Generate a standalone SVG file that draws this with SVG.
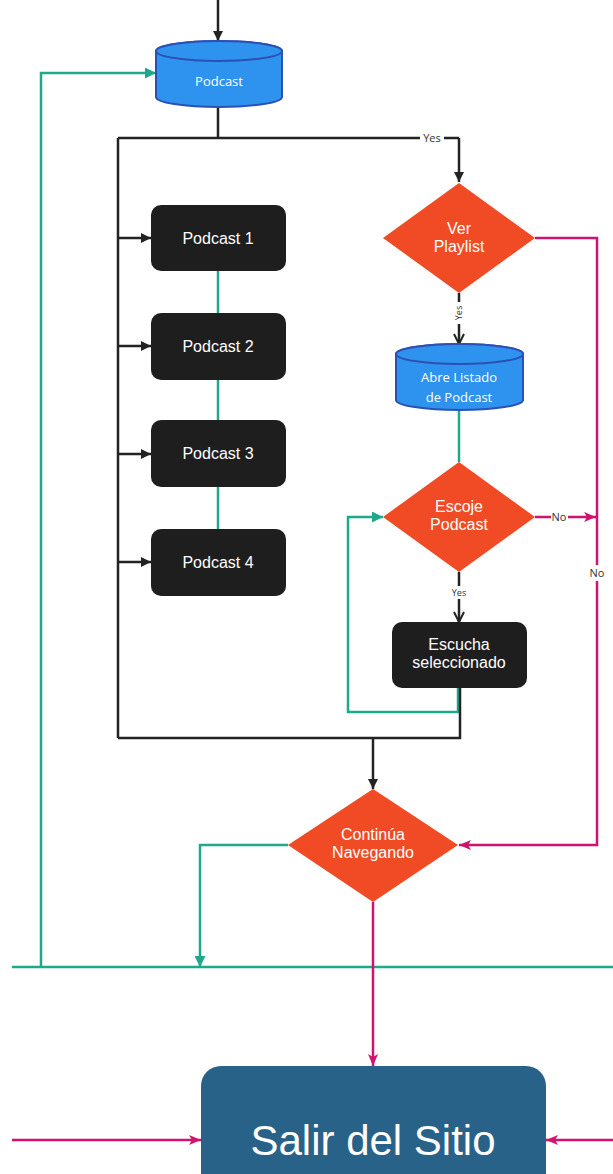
<svg xmlns="http://www.w3.org/2000/svg" width="613" height="1174" viewBox="0 0 613 1174">
  <style>
    .blk { fill: none; stroke: #232323; stroke-width: 2.5; }
    .grn { fill: none; stroke: #1fa889; stroke-width: 2.5; }
    .pnk { fill: none; stroke: #d1126f; stroke-width: 2.5; }
    .cyl { fill: #2e93ef; stroke: #2c50b4; stroke-width: 2; }
    .dia { fill: #f04b24; }
    .box { fill: #1e1e1e; }
    .exit { fill: #296289; }
    .t15 { font-family: "Liberation Sans", Arial, sans-serif; font-size: 16px; fill: #ffffff; text-anchor: middle; }
    .t13 { font-family: "Open Sans", "Noto Sans", sans-serif; font-size: 13px; fill: #ffffff; text-anchor: middle; }
    .lbl { font-family: "Open Sans", "Noto Sans", sans-serif; font-size: 11px; fill: #333333; text-anchor: middle; }
    .lbls { font-family: "Open Sans", "Noto Sans", sans-serif; font-size: 9px; fill: #333333; text-anchor: middle; }
  </style>
  <defs>
    <marker id="ahBlk" viewBox="0 0 10 10" refX="10" refY="5" markerWidth="10" markerHeight="10" markerUnits="userSpaceOnUse" orient="auto">
      <path d="M0,0 L10,5 L0,10 Z" fill="#232323"/>
    </marker>
    <marker id="ahBlkOpen" viewBox="0 0 12 12" refX="11" refY="6" markerWidth="12" markerHeight="12" markerUnits="userSpaceOnUse" orient="auto">
      <path d="M1,1 L11,6 L1,11" fill="none" stroke="#232323" stroke-width="2"/>
    </marker>
    <marker id="ahGrn" viewBox="0 0 10 10" refX="10" refY="5" markerWidth="11" markerHeight="11" markerUnits="userSpaceOnUse" orient="auto">
      <path d="M0,0 L10,5 L0,10 Z" fill="#1fa889"/>
    </marker>
    <marker id="ahPnk" viewBox="0 0 12 10" refX="12" refY="5" markerWidth="12" markerHeight="10" markerUnits="userSpaceOnUse" orient="auto">
      <path d="M0,0 L12,5 L0,10 L3,5 Z" fill="#d1126f"/>
    </marker>
  </defs>

  <!-- connectors -->
  <g id="connectors">
    <!-- entry into Podcast -->
    <path class="blk" d="M218,0 V41" marker-end="url(#ahBlk)"/>
    <!-- Podcast fan-out -->
    <path class="blk" d="M218,107 V138 M118,138 H459 M118,138 V738"/>
    <path class="blk" d="M459,138 V182" marker-end="url(#ahBlk)"/>
    <path class="blk" d="M118,238 H151" marker-end="url(#ahBlk)"/>
    <path class="blk" d="M118,346 H151" marker-end="url(#ahBlk)"/>
    <path class="blk" d="M118,454 H151" marker-end="url(#ahBlk)"/>
    <path class="blk" d="M118,562 H151" marker-end="url(#ahBlk)"/>
    <!-- podcast chain -->
    <path class="grn" d="M218,271 V313 M218,380 V420 M218,487 V529"/>
    <!-- Ver Playlist yes -->
    <path class="blk" d="M459,293 V344" marker-end="url(#ahBlkOpen)"/>
    <!-- Abre Listado to Escoje -->
    <path class="grn" d="M459,410 V462"/>
    <!-- Escoje yes -->
    <path class="blk" d="M459,572 V622" marker-end="url(#ahBlkOpen)"/>
    <!-- loop back to Escoje -->
    <path class="grn" d="M458,688 V712 H348 V517 H383" marker-end="url(#ahGrn)"/>
    <!-- merge into Continúa -->
    <path class="blk" d="M460,688 V738 H118"/>
    <path class="blk" d="M373,738 V789" marker-end="url(#ahBlk)"/>
    <!-- No branches -->
    <path class="pnk" d="M535,238 H597 V845 H459" marker-end="url(#ahPnk)"/>
    <path class="pnk" d="M535,517 H596" marker-end="url(#ahPnk)"/>
    <!-- Continúa to bus line -->
    <path class="grn" d="M288,845 H200 V967" marker-end="url(#ahGrn)"/>
    <path class="grn" d="M12,967 H613"/>
    <path class="grn" d="M41,967 V73 H156" marker-end="url(#ahGrn)"/>
    <!-- exits -->
    <path class="pnk" d="M373,902 V1066" marker-end="url(#ahPnk)"/>
    <path class="pnk" d="M12,1140 H201" marker-end="url(#ahPnk)"/>
    <path class="pnk" d="M613,1140 H546" marker-end="url(#ahPnk)"/>

    <!-- labels -->
    <rect x="420" y="131" width="24" height="14" fill="#ffffff"/>
    <text class="lbl" x="432" y="142">Yes</text>
    <rect x="452" y="302" width="14" height="22" fill="#ffffff"/>
    <text class="lbls" transform="translate(462,313) rotate(-90)">Yes</text>
    <rect x="450" y="586" width="18" height="13" fill="#ffffff"/>
    <text class="lbls" x="459" y="596">Yes</text>
    <rect x="551" y="510" width="17" height="14" fill="#ffffff"/>
    <text class="lbl" x="559" y="521">No</text>
    <rect x="589" y="565" width="16" height="16" fill="#ffffff"/>
    <text class="lbl" x="597" y="577">No</text>
  </g>

  <!-- nodes -->
  <g id="podcast">
    <path class="cyl" d="M156,51 A63,10 0 0 1 282,51 V97 A63,10 0 0 1 156,97 Z"/>
    <ellipse class="cyl" cx="219" cy="51" rx="63" ry="10"/>
    <text class="t13" x="219" y="86">Podcast</text>
  </g>

  <g id="podcast1">
    <rect class="box" x="151" y="205" width="135" height="66" rx="10"/>
    <text class="t15" x="218" y="244">Podcast 1</text>
  </g>
  <g id="podcast2">
    <rect class="box" x="151" y="313" width="135" height="67" rx="10"/>
    <text class="t15" x="218" y="352">Podcast 2</text>
  </g>
  <g id="podcast3">
    <rect class="box" x="151" y="420" width="135" height="67" rx="10"/>
    <text class="t15" x="218" y="459">Podcast 3</text>
  </g>
  <g id="podcast4">
    <rect class="box" x="151" y="529" width="135" height="67" rx="10"/>
    <text class="t15" x="218" y="568">Podcast 4</text>
  </g>

  <g id="ver-playlist">
    <path class="dia" d="M459,183 L535,238 L459,293 L383,238 Z"/>
    <text class="t15" x="459" y="234">Ver</text>
    <text class="t15" x="459" y="252">Playlist</text>
  </g>

  <g id="abre-listado">
    <path class="cyl" d="M396,354 A63.5,10 0 0 1 523,354 V400 A63.5,10 0 0 1 396,400 Z"/>
    <ellipse class="cyl" cx="459.5" cy="354" rx="63.5" ry="10"/>
    <text class="t13" x="459" y="382">Abre Listado</text>
    <text class="t13" x="459" y="402">de Podcast</text>
  </g>

  <g id="escoje-podcast">
    <path class="dia" d="M459,462 L535,517 L459,572 L383,517 Z"/>
    <text class="t15" x="459" y="512">Escoje</text>
    <text class="t15" x="459" y="530">Podcast</text>
  </g>

  <g id="escucha">
    <rect class="box" x="392" y="622" width="135" height="66" rx="10"/>
    <text class="t15" x="459" y="650">Escucha</text>
    <text class="t15" x="459" y="668">seleccionado</text>
  </g>

  <g id="continua">
    <path class="dia" d="M373,789 L458,845 L373,902 L288,845 Z"/>
    <text class="t15" x="373" y="840">Continúa</text>
    <text class="t15" x="373" y="858">Navegando</text>
  </g>

  <g id="salir">
    <rect class="exit" x="201" y="1066" width="345" height="130" rx="20"/>
    <text x="373" y="1155" font-family="'Liberation Sans', Arial, sans-serif" font-size="42" fill="#ffffff" text-anchor="middle">Salir del Sitio</text>
  </g>
</svg>
